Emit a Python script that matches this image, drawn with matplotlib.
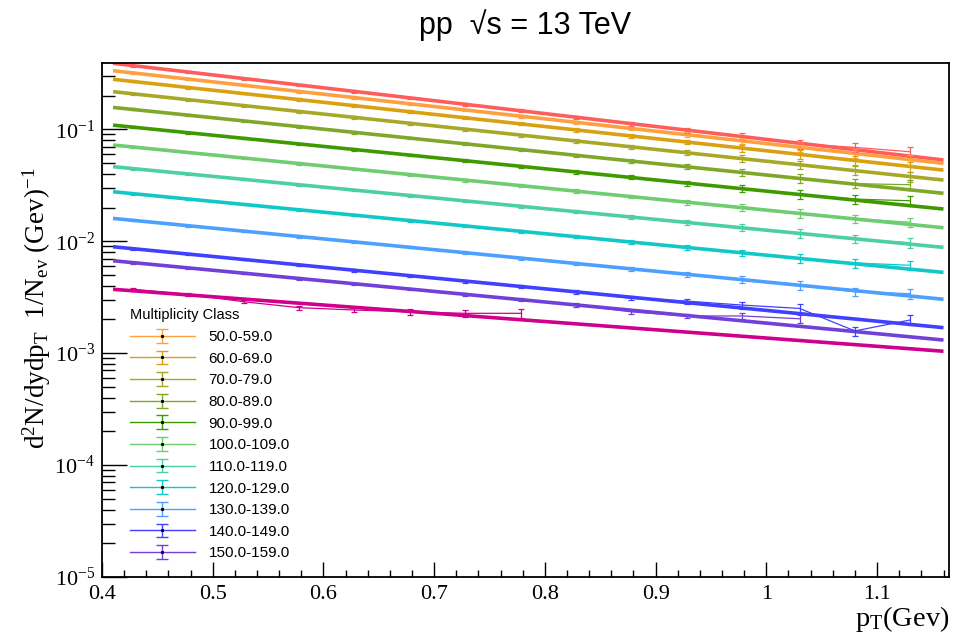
import numpy as np
import matplotlib
matplotlib.use('Agg')
import matplotlib.pyplot as plt
from matplotlib.ticker import LogLocator, MultipleLocator, FixedLocator, NullFormatter
from matplotlib.container import ErrorbarContainer
from matplotlib.legend_handler import HandlerErrorbar

plt.rcParams['font.family'] = ['Liberation Serif', 'DejaVu Serif']
plt.rcParams['mathtext.fontset'] = 'stix'

# pT bin centres (GeV)
pt = [0.428, 0.478, 0.528, 0.578, 0.628, 0.678, 0.728, 0.778,
      0.828, 0.878, 0.928, 0.978, 1.03, 1.08, 1.13]

# relative errors per bin
rel_err = [0.02, 0.02, 0.02, 0.025, 0.025, 0.025, 0.03, 0.03,
           0.035, 0.04, 0.05, 0.07, 0.09, 0.09, 0.10]
rel_err_low = [0.03, 0.03, 0.035, 0.04, 0.05, 0.06, 0.08, 0.10,
               np.nan, np.nan, np.nan, np.nan, np.nan, np.nan, np.nan]

# yields per class, top curve first
y_red = [0.371, 0.325, 0.284, 0.249, 0.218, 0.191, 0.167, 0.147, 0.128, 0.112, 0.0984, 0.0862, 0.074, 0.069, 0.063]
y_50 = [0.319, 0.281, 0.248, 0.218, 0.192, 0.169, 0.149, 0.131, 0.1155, 0.1017, 0.0896, 0.0789, 0.0691, 0.0609, 0.0536]
y_60 = [0.268, 0.236, 0.209, 0.184, 0.163, 0.144, 0.127, 0.112, 0.0989, 0.0873, 0.0771, 0.0680, 0.0598, 0.0528, 0.0466]
y_70 = [0.2075, 0.184, 0.163, 0.144, 0.128, 0.113, 0.1003, 0.0889, 0.0788, 0.0698, 0.0618, 0.0548, 0.0483, 0.0428, 0.0379]
y_80 = [0.151, 0.134, 0.119, 0.1058, 0.0941, 0.0836, 0.0743, 0.0660, 0.0587, 0.0521, 0.0463, 0.0412, 0.0364, 0.0327, 0.032]
y_90 = [0.1047, 0.0933, 0.0832, 0.0741, 0.0661, 0.0589, 0.0525, 0.0468, 0.0417, 0.0372, 0.0331, 0.0295, 0.0262, 0.0238, 0.0230]
y_100 = [0.0696, 0.0621, 0.0554, 0.0495, 0.0442, 0.0394, 0.0352, 0.0314, 0.0281, 0.0251, 0.0224, 0.0200, 0.0178, 0.0159, 0.0148]
y_110 = [0.0445, 0.0399, 0.0357, 0.0320, 0.0286, 0.0256, 0.0229, 0.0205, 0.0184, 0.0164, 0.0147, 0.0132, 0.0118, 0.0105, 0.0097]
y_120 = [0.0266, 0.0238, 0.0213, 0.0191, 0.0171, 0.0153, 0.0137, 0.0123, 0.0110, 0.00983, 0.00881, 0.00788, 0.00703, 0.0064, 0.0061]
y_130 = [0.0154, 0.0138, 0.0123, 0.0110, 0.00987, 0.00884, 0.00791, 0.00707, 0.00633, 0.00567, 0.00507, 0.00454, 0.00404, 0.00354, 0.0034]
y_140 = [0.00858, 0.00768, 0.00687, 0.00615, 0.00550, 0.00492, 0.00441, 0.00394, 0.00353, 0.00309, 0.00292, 0.00269, 0.00251, 0.00158, 0.00198]
y_150 = [0.00644, 0.00578, 0.00518, 0.00465, 0.00417, 0.00374, 0.00335, 0.00301, 0.00270, 0.00234, 0.00215, 0.00215, 0.00203, np.nan, np.nan]
y_low = [0.00372, 0.00335, 0.00288, 0.00255, 0.00243, 0.00234, 0.00227, 0.00227, np.nan, np.nan, np.nan, np.nan, np.nan, np.nan, np.nan]

# fit lines, value at pT = 0.41 and 1.16
fit_x = [0.41, 1.16]
fit_red = [0.389, 0.0532]
fit_50 = [0.334, 0.0497]
fit_60 = [0.280, 0.0432]
fit_70 = [0.217, 0.0352]
fit_80 = [0.157, 0.0268]
fit_90 = [0.109, 0.0194]
fit_100 = [0.0724, 0.0132]
fit_110 = [0.0464, 0.00881]
fit_120 = [0.0277, 0.00527]
fit_130 = [0.0160, 0.00303]
fit_140 = [0.00893, 0.00169]
fit_150 = [0.00670, 0.00131]
fit_low = [0.00372, 0.00104]

labels = [None, '50.0-59.0', '60.0-69.0', '70.0-79.0', '80.0-89.0', '90.0-99.0',
          '100.0-109.0', '110.0-119.0', '120.0-129.0', '130.0-139.0',
          '140.0-149.0', '150.0-159.0', None]
colors = ['#ff5c5c', '#ffa040', '#d9a010', '#a8a828', '#7fa82a', '#3f9a00',
          '#70cc70', '#4cd0a0', '#10c8c8', '#4ca0ff', '#4040ff', '#7040d8', '#d0008c']
series = [y_red, y_50, y_60, y_70, y_80, y_90, y_100, y_110, y_120, y_130, y_140, y_150, y_low]
fits = [fit_red, fit_50, fit_60, fit_70, fit_80, fit_90, fit_100, fit_110, fit_120,
        fit_130, fit_140, fit_150, fit_low]

fig = plt.figure(figsize=(9.54, 6.37), dpi=100)
ax = fig.add_axes([0.1069, 0.0942, 0.8879, 0.8074])

handles = []
for i in range(len(series)):
    c = colors[i]
    yv = np.array(series[i])
    re = np.array(rel_err_low if i == len(series) - 1 else rel_err)
    ax.plot(fit_x, fits[i], color=c, lw=2.6, solid_capstyle='butt', zorder=2)
    ax.errorbar(pt, yv, yerr=yv * re, color=c, lw=0.9, elinewidth=0.9,
                capsize=2, capthick=0.9, zorder=3)
    if labels[i] is not None:
        h = ax.errorbar([np.nan], [np.nan], yerr=[np.nan], color=c, lw=1.0,
                        elinewidth=1.0, capsize=4, capthick=1.0, marker='s',
                        ms=1.2, mfc='k', mec='k', label=labels[i])
        handles.append(h)

ax.set_yscale('log')
ax.set_xlim(0.4, 1.165)
ax.set_ylim(1e-5, 0.394)

ax.xaxis.set_major_locator(MultipleLocator(0.1))
ax.xaxis.set_minor_locator(MultipleLocator(0.02))
ax.xaxis.set_major_formatter(plt.FuncFormatter(lambda v, p: '%g' % round(v, 2)))
ax.yaxis.set_major_locator(FixedLocator([1e-5, 1e-4, 1e-3, 1e-2, 1e-1]))
ax.yaxis.set_minor_locator(LogLocator(base=10, subs=np.arange(2, 10), numticks=20))
ax.yaxis.set_minor_formatter(NullFormatter())

ax.tick_params(axis='both', which='both', direction='in', top=False, right=False, width=1.0)
ax.tick_params(axis='x', which='major', length=11, labelsize=16, pad=6)
ax.tick_params(axis='x', which='minor', length=5.4)
ax.tick_params(axis='y', which='major', length=18, labelsize=16, pad=5)
ax.tick_params(axis='y', which='minor', length=9)
for s in ax.spines.values():
    s.set_linewidth(1.3)

ax.set_title('pp  \u221as = 13 TeV', family=['Liberation Sans', 'DejaVu Sans'],
             fontsize=22, pad=21)
ax.set_ylabel(r'$\mathregular{d^{2}N/dydp_{T}\ \ 1/N_{ev}\ (Gev)^{-1}}$', fontsize=19.5)
ax.yaxis.set_label_coords(-0.058, 0.522)
ax.set_xlabel(r'$\mathregular{p_{T}(Gev)}$', fontsize=20.5, loc='right', labelpad=0)

leg = ax.legend(handles=handles, title='Multiplicity Class', loc='upper left',
                bbox_to_anchor=(0.024, 0.537), frameon=False, fontsize=11,
                title_fontsize=10.5, handlelength=4.25, labelspacing=0.5,
                handletextpad=0.9, borderpad=0, alignment='left',
                handler_map={ErrorbarContainer: HandlerErrorbar(yerr_size=0.45)})
for t in leg.get_texts():
    t.set_family(['Liberation Sans', 'DejaVu Sans'])
leg.get_title().set_family(['Liberation Sans', 'DejaVu Sans'])

fig.savefig('out.png', dpi=100)
